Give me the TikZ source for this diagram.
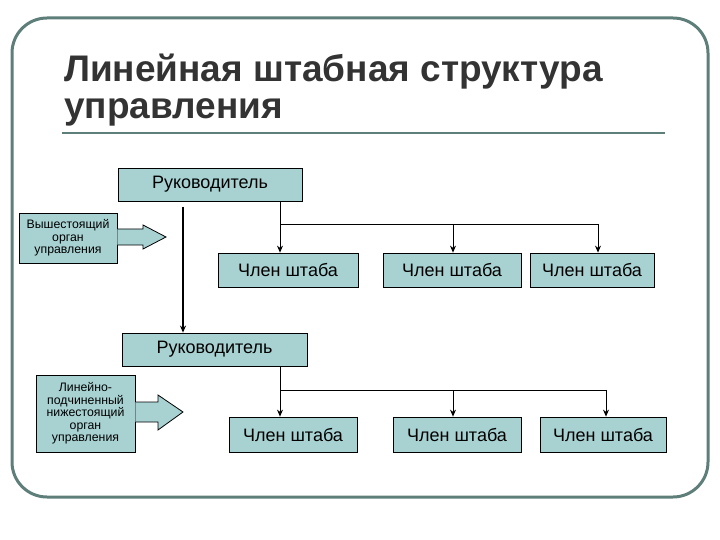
\documentclass[tikz,border=0pt]{standalone}
\usepackage{fontspec}
\setmainfont{Liberation Sans}
\usetikzlibrary{arrows.meta}
\definecolor{boxc}{HTML}{A8D2D2}
\definecolor{framec}{HTML}{5E7E7A}
\definecolor{titlec}{HTML}{333333}
\begin{document}
\begin{tikzpicture}[x=1pt,y=-1pt,
  bx/.style={draw=black,fill=boxc,line width=0.8pt,inner sep=0pt},
  big/.style={font=\fontsize{18}{20}\selectfont},
  sm/.style={font=\fontsize{12.3}{12.5}\selectfont,align=center},
  con/.style={line width=0.8pt},
  arr/.style={con,-{Stealth[length=7pt,width=6pt]}},
  hollow/.style={draw=black,fill=boxc,line width=0.8pt}]
\useasboundingbox (0,0) rectangle (720,540);
\draw[framec,line width=3pt,rounded corners=35pt] (12,18) rectangle (708,497);
\node[anchor=west,text=titlec,font=\bfseries\fontsize{37}{37}\selectfont,align=left,inner sep=0pt] (title) at (64,90) {Линейная штабная структура\\управления};
\draw[framec,line width=2.5pt] (62,133) -- (665,133);
% boxes
\node[bx,big,minimum width=184pt,minimum height=33pt] (r1) at (210,184.5) {Руководитель};
\node[bx,sm,minimum width=98pt,minimum height=50pt] (v) at (68,238) {Вышестоящий\\орган\\управления};
\node[bx,big,minimum width=140pt,minimum height=34pt] (a1) at (288,270) {Член штаба};
\node[bx,big,minimum width=138pt,minimum height=34pt] (a2) at (452,270) {Член штаба};
\node[bx,big,minimum width=124pt,minimum height=34pt] (a3) at (592,270) {Член штаба};
\node[bx,big,minimum width=185pt,minimum height=33pt] (r2) at (214.5,349.5) {Руководитель};
\node[bx,sm,minimum width=99pt,minimum height=77pt] (l) at (85.5,413.5) {Линейно-\\подчиненный\\нижестоящий\\орган\\управления};
\node[bx,big,minimum width=128pt,minimum height=35pt] (b1) at (293,434.5) {Член штаба};
\node[bx,big,minimum width=128pt,minimum height=35pt] (b2) at (457,434.5) {Член штаба};
\node[bx,big,minimum width=126pt,minimum height=35pt] (b3) at (603,434.5) {Член штаба};
% hollow arrows
\draw[hollow] (v.east |- 0,229) -- (143,229) -- (143,225) -- (166,237) -- (143,249) -- (143,245) -- (v.east |- 0,245);
\draw[hollow] (l.east |- 0,402) -- (158,402) -- (158,395) -- (183,412) -- (158,430) -- (158,422) -- (l.east |- 0,422);
% connectors
\draw[arr,line width=1.6pt] (183,207) -- (r2.north -| 183,0);
\coordinate (j1) at (280,224);
\draw[con] (r1.south -| j1) -- (j1) -- (598,224);
\draw[arr] (j1) -- (a1.north -| j1);
\draw[arr] (453,224) -- (a2.north -| 453,0);
\draw[arr] (598,224) -- (a3.north -| 598,0);
\coordinate (j2) at (280,390);
\draw[con] (r2.south -| j2) -- (j2) -- (606,390);
\draw[arr] (j2) -- (b1.north -| j2);
\draw[arr] (453,390) -- (b2.north -| 453,0);
\draw[arr] (606,390) -- (b3.north -| 606,0);
\end{tikzpicture}
\end{document}
